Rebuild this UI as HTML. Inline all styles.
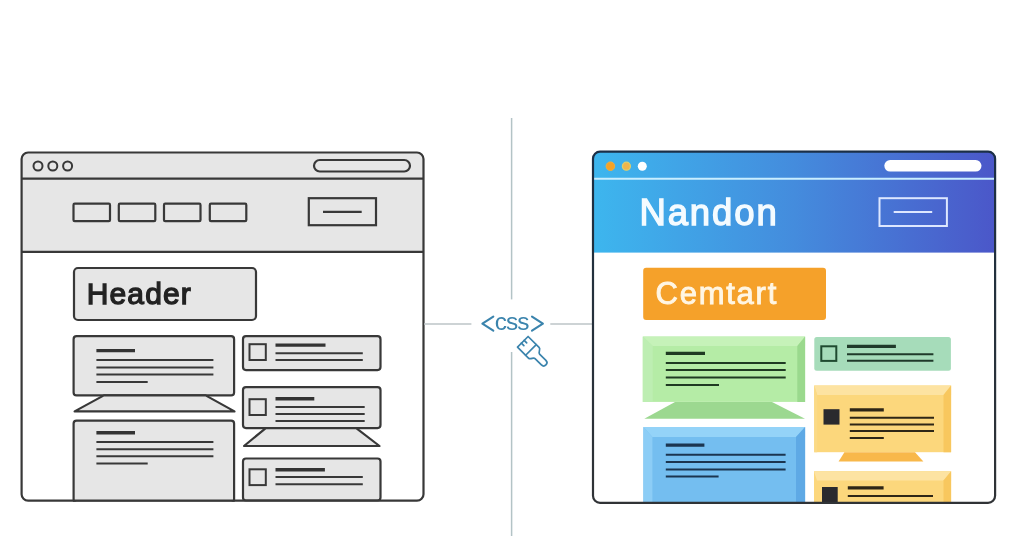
<!DOCTYPE html>
<html><head><meta charset="utf-8">
<style>
html,body{margin:0;padding:0;background:#fff;width:1024px;height:536px;overflow:hidden;}
svg{position:absolute;left:0;top:0;display:block;will-change:transform;}
text{font-family:"Liberation Sans",sans-serif;}
</style></head>
<body>
<svg width="1024" height="536" viewBox="0 0 1024 536">
<defs>
<linearGradient id="hg" x1="0" y1="0" x2="1" y2="0">
<stop offset="0" stop-color="#3db6ee"/>
<stop offset="0.5" stop-color="#448cdd"/>
<stop offset="1" stop-color="#4b57c9"/>
</linearGradient>
<clipPath id="rwclip"><rect x="593" y="151.7" width="402.1" height="351.1" rx="8"/></clipPath>
<clipPath id="lwclip"><rect x="21.6" y="152.5" width="401.9" height="348.2" rx="6.5"/></clipPath>
<linearGradient id="rb" x1="0" y1="0" x2="0" y2="1">
<stop offset="0" stop-color="#1b2f47"/>
<stop offset="0.3" stop-color="#22303e"/>
<stop offset="1" stop-color="#303336"/>
</linearGradient>
</defs>

<!-- ============ LEFT WINDOW ============ -->
<g id="lw">
<rect x="21.6" y="152.5" width="401.9" height="348.2" rx="6.5" fill="#fff"/>
<g clip-path="url(#lwclip)">
<rect x="21.6" y="152.5" width="401.9" height="99.3" fill="#e6e6e6"/>
</g>
<g fill="none" stroke="#383838" stroke-width="2.2">
<line x1="21.6" y1="178.7" x2="423.5" y2="178.7"/>
<line x1="21.6" y1="251.8" x2="423.5" y2="251.8"/>
<circle cx="38" cy="166" r="4.5" stroke-width="2"/>
<circle cx="52.8" cy="166" r="4.5" stroke-width="2"/>
<circle cx="67.6" cy="166" r="4.5" stroke-width="2"/>
<rect x="314" y="160" width="96" height="11.5" rx="5.75"/>
<rect x="73.5" y="203.7" width="36.5" height="17.5" rx="1.2"/>
<rect x="118.8" y="203.7" width="36.5" height="17.5" rx="1.2"/>
<rect x="164" y="203.7" width="36.5" height="17.5" rx="1.2"/>
<rect x="209.8" y="203.7" width="36.5" height="17.5" rx="1.2"/>
<rect x="308.8" y="198.2" width="67.2" height="27"/>
<line x1="323" y1="211.8" x2="361.7" y2="211.8"/>
</g>
<!-- content -->
<g stroke="#383838" stroke-width="2.2" fill="#e6e6e6">
<rect x="74" y="268" width="182" height="52" rx="4"/>
<rect x="73.6" y="336.2" width="160.5" height="59.2" rx="3"/>
<polygon points="103.9,395.4 205.6,395.4 234.5,411.4 74.6,411.4" stroke-linejoin="round"/>
<rect x="73.6" y="420.6" width="160.5" height="82" rx="3"/>
<rect x="243" y="336.2" width="137.5" height="33.9" rx="3"/>
<rect x="243" y="387.1" width="137.5" height="41" rx="3"/>
<polygon points="265.8,428.1 356.2,428.1 379.5,446 244,446" stroke-linejoin="round"/>
<rect x="243" y="458.5" width="137.5" height="42" rx="3"/>
</g>
<text x="86.8" y="303.6" font-size="30" letter-spacing="1.1" fill="#222" stroke="#222" stroke-width="1.3">Header</text>
<g stroke="#383838" fill="none">
<rect x="249.5" y="344.2" width="16.3" height="15.8" stroke-width="2"/>
<rect x="249.5" y="399.2" width="16.3" height="15.8" stroke-width="2"/>
<rect x="249.5" y="469.3" width="16.3" height="15.8" stroke-width="2"/>
</g>
<g stroke="#333" stroke-width="3.4">
<line x1="96.4" y1="350.6" x2="135" y2="350.6"/>
<line x1="96.4" y1="432.8" x2="135" y2="432.8"/>
<line x1="275.5" y1="345.1" x2="325.5" y2="345.1"/>
<line x1="275.5" y1="398.7" x2="314.3" y2="398.7"/>
<line x1="275.5" y1="469.7" x2="324.9" y2="469.7"/>
</g>
<g stroke="#383838" stroke-width="2">
<line x1="96.4" y1="360.1" x2="213.4" y2="360.1"/>
<line x1="96.4" y1="367.6" x2="213.4" y2="367.6"/>
<line x1="96.4" y1="374.6" x2="213.4" y2="374.6"/>
<line x1="96.4" y1="381.9" x2="147.7" y2="381.9"/>
<line x1="96.4" y1="442.1" x2="213.4" y2="442.1"/>
<line x1="96.4" y1="449.2" x2="213.4" y2="449.2"/>
<line x1="96.4" y1="456.3" x2="213.4" y2="456.3"/>
<line x1="96.4" y1="463.6" x2="147.7" y2="463.6"/>
<line x1="275.5" y1="353.2" x2="362.8" y2="353.2"/>
<line x1="275.5" y1="359.9" x2="362.8" y2="359.9"/>
<line x1="275.5" y1="407.1" x2="364.7" y2="407.1"/>
<line x1="275.5" y1="414" x2="364.7" y2="414"/>
<line x1="275.5" y1="421.1" x2="364.7" y2="421.1"/>
<line x1="275.5" y1="477.1" x2="362.8" y2="477.1"/>
<line x1="275.5" y1="484.2" x2="362.8" y2="484.2"/>
</g>
<!-- white mask below window -->
<rect x="0" y="501.8" width="440" height="40" fill="#fff"/>
<rect x="21.6" y="152.5" width="401.9" height="348.2" rx="6.5" fill="none" stroke="#383838" stroke-width="2.2"/>
</g>

<!-- ============ CENTER ============ -->
<g stroke="#b3c3c6" stroke-width="1.5">
<line x1="511.6" y1="118" x2="511.6" y2="299.4"/>
<line x1="511.6" y1="352" x2="511.6" y2="536"/>
</g>
<g stroke="#bcc5c7" stroke-width="1.5">
<line x1="424" y1="324.1" x2="471.4" y2="324.1"/>
<line x1="550.3" y1="324.1" x2="593" y2="324.1"/>
</g>
<g stroke="#3b84ad" stroke-width="2.1" fill="none" stroke-linecap="round" stroke-linejoin="round">
<polyline points="493.3,316.6 482.4,323.6 493.3,330.6"/>
<polyline points="532,316.6 542.9,323.6 532,330.6"/>
</g>
<text x="494.8" y="330.2" font-size="24.4" letter-spacing="-1" fill="#3b84ad">css</text>
<!-- brush -->
<g transform="translate(522.8,341.8) rotate(-45)" stroke="#3b84ad" stroke-width="1.7" fill="none" stroke-linejoin="round" stroke-linecap="round">
<path d="M-7.5,0 H7.5 V15.5 C7.5,18.5 3.2,18 3.2,20.5 V29.5 A3.2,3.2 0 0 1 -3.2,29.5 V20.5 C-3.2,18 -7.5,18.5 -7.5,15.5 Z"/>
<path d="M-7.5,11.5 H7.5"/>
<path d="M-2,0 V3.5 M2,0 V3.5"/>
</g>

<!-- ============ RIGHT WINDOW ============ -->
<g id="rw">
<rect x="593" y="151.7" width="402.1" height="351.1" rx="8" fill="#fff"/>
<g clip-path="url(#rwclip)">
<rect x="593" y="151.7" width="402.1" height="100.9" fill="url(#hg)"/>
</g>
<line x1="593" y1="178.8" x2="995.1" y2="178.8" stroke="#c9eeff" stroke-width="2"/>
<circle cx="610.4" cy="166.2" r="4.3" fill="#f6a225" stroke="#eeae40" stroke-width="1"/>
<circle cx="626.4" cy="166.2" r="4" fill="#f0b54c" stroke="#dccf6e" stroke-width="1.3"/>
<circle cx="642.3" cy="166.2" r="4.5" fill="#ffffff"/>
<rect x="884.3" y="160" width="97.2" height="11.6" rx="5.8" fill="#fff"/>
<rect x="879.5" y="198.2" width="67.4" height="27.8" fill="none" stroke="#dde7ff" stroke-width="2"/>
<line x1="893.7" y1="212" x2="932.2" y2="212" stroke="#dde7ff" stroke-width="2"/>
<text x="639.4" y="225.4" font-size="36.5" letter-spacing="1.9" fill="#f4fbff" stroke="#f4fbff" stroke-width="1.35">Nandon</text>

<rect x="643.2" y="267.8" width="182.8" height="52.2" rx="3" fill="#f5a12a"/>
<text x="655.5" y="303.6" font-size="31" letter-spacing="1.75" fill="#fff6e4" stroke="#fff6e4" stroke-width="0.9">Cemtart</text>

<!-- green card -->
<rect x="642.8" y="336.6" width="162.3" height="65.3" fill="#b5eca6"/>
<polygon points="642.8,336.6 805.1,336.6 797.3,346 652.7,346" fill="#c6f2b9"/>
<polygon points="642.8,336.6 652.7,346 652.7,401.9 642.8,401.9" fill="#bdeeb2"/>
<polygon points="805.1,336.6 805.1,401.9 797.3,401.9 797.3,346" fill="#9ad98d"/>
<polygon points="675,401.9 772,401.9 805,418.7 644.3,418.7" fill="#9cd890"/>
<g stroke="#1f3a22">
<line x1="665.8" y1="353.4" x2="705" y2="353.4" stroke-width="3.2"/>
<line x1="665.8" y1="362.9" x2="785.7" y2="362.9" stroke-width="2"/>
<line x1="665.8" y1="370.1" x2="785.7" y2="370.1" stroke-width="2"/>
<line x1="665.8" y1="377.6" x2="785.7" y2="377.6" stroke-width="2"/>
<line x1="665.8" y1="385" x2="719" y2="385" stroke-width="2"/>
</g>

<!-- blue card -->
<rect x="643.4" y="427.1" width="161.7" height="75.4" fill="#74bef0"/>
<polygon points="643.4,427.1 805.1,427.1 796,437 652.4,437" fill="#94d3f8"/>
<polygon points="643.4,427.1 652.4,437 652.4,502.5 643.4,502.5" fill="#8ccdf6"/>
<polygon points="805.1,427.1 805.1,502.5 796,502.5 796,437" fill="#5ea9e5"/>
<g stroke="#1b3550">
<line x1="665.8" y1="445.2" x2="704.4" y2="445.2" stroke-width="3.2"/>
<line x1="665.8" y1="454.7" x2="785.6" y2="454.7" stroke-width="2"/>
<line x1="665.8" y1="462" x2="785.6" y2="462" stroke-width="2"/>
<line x1="665.8" y1="469.5" x2="785.6" y2="469.5" stroke-width="2"/>
<line x1="665.8" y1="476.6" x2="718.6" y2="476.6" stroke-width="2"/>
</g>

<!-- mint card -->
<rect x="814.3" y="337.1" width="136.6" height="33.6" rx="2.5" fill="#a6dcba"/>
<rect x="821.3" y="346.3" width="15" height="14.6" fill="none" stroke="#1f4a30" stroke-width="2"/>
<g stroke="#1f3a2a">
<line x1="847" y1="346.4" x2="895.9" y2="346.4" stroke-width="3.2"/>
<line x1="847" y1="354.3" x2="933.4" y2="354.3" stroke-width="2"/>
<line x1="847" y1="360.8" x2="933.4" y2="360.8" stroke-width="2"/>
</g>

<!-- yellow card 1 -->
<rect x="814.2" y="385.5" width="136.9" height="66.7" fill="#fcd77c"/>
<polygon points="814.2,385.5 951.1,385.5 943.5,395 817.2,395" fill="#fde3a2"/>
<polygon points="814.2,385.5 817.2,395 817.2,452.2 814.2,452.2" fill="#fbda86"/>
<polygon points="951.1,385.5 951.1,452.2 943.5,452.2 943.5,395" fill="#f8c75e"/>
<polygon points="844.4,452.2 915,452.2 923.4,461.5 838.6,461.5" fill="#f8b84a"/>
<rect x="823.5" y="409.2" width="16" height="15.4" fill="#2a2a2e"/>
<g stroke="#2e2616">
<line x1="849.8" y1="409.9" x2="883.8" y2="409.9" stroke-width="3.2"/>
<line x1="849.8" y1="417.8" x2="934" y2="417.8" stroke-width="2"/>
<line x1="849.8" y1="424.6" x2="934" y2="424.6" stroke-width="2"/>
<line x1="849.8" y1="431.1" x2="934" y2="431.1" stroke-width="2"/>
<line x1="849.8" y1="437.9" x2="883.8" y2="437.9" stroke-width="2"/>
</g>

<!-- yellow card 2 -->
<rect x="814" y="471.2" width="137.1" height="31.3" fill="#fcd77c"/>
<polygon points="814,471.2 951.1,471.2 943.5,480.5 817,480.5" fill="#fde3a2"/>
<polygon points="951.1,471.2 951.1,502.5 943.5,502.5 943.5,480.5" fill="#f8c75e"/>
<rect x="822" y="487" width="15.7" height="15" fill="#2a2a2e"/>
<g stroke="#2e2616">
<line x1="847.8" y1="487.8" x2="883.6" y2="487.8" stroke-width="3.2"/>
<line x1="847.8" y1="495.9" x2="933" y2="495.9" stroke-width="2"/>
</g>
<rect x="0" y="0" width="0" height="0"/>
<rect x="593" y="151.7" width="402.1" height="351.1" rx="7" fill="none" stroke="url(#rb)" stroke-width="2.2"/>
</g>
</svg>
</body></html>
